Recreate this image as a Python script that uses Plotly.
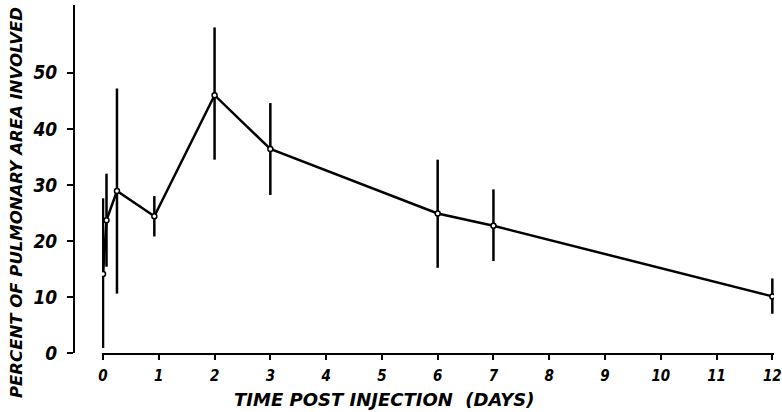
import plotly.graph_objects as go

# Data
days = [0.0, 0.0625, 0.25, 0.92, 2.0, 3.0, 6.0, 7.0, 12.0]
percent = [14.1, 23.7, 28.9, 24.4, 46.0, 36.4, 24.9, 22.7, 10.1]
err_high = [27.6, 32.0, 47.2, 28.0, 58.1, 44.6, 34.5, 29.2, 13.3]
err_low = [0.9, 15.4, 10.6, 20.8, 34.5, 28.2, 15.2, 16.4, 7.0]

x_ticks = list(range(0, 13))
x_tick_labels = [str(v) for v in x_ticks]
y_ticks = [0, 10, 20, 30, 40, 50]
y_tick_labels = [str(v) for v in y_ticks]

plus = [h - v for h, v in zip(err_high, percent)]
minus = [v - l for v, l in zip(percent, err_low)]

COND = "DejaVu Sans Condensed, DejaVu Sans, sans-serif"
WIDE = "DejaVu Sans, sans-serif"

fig = go.Figure()
fig.add_trace(go.Scatter(
    x=days, y=percent,
    mode="lines+markers",
    line=dict(color="black", width=2.5),
    marker=dict(symbol="circle", size=5, color="white",
                line=dict(color="black", width=1.5)),
    error_y=dict(type="data", symmetric=False, array=plus, arrayminus=minus,
                 color="black", thickness=2.5, width=0),
    showlegend=False,
    hoverinfo="skip",
))

L, R, T, B = 74, 8, 5, 59
W, H = 782, 412
pw = W - L - R
ph = H - T - B
x0_px = 101.9
dom_start = (x0_px - L) / pw

fig.update_layout(
    width=W, height=H,
    margin=dict(l=L, r=R, t=T, b=B, autoexpand=False),
    paper_bgcolor="white", plot_bgcolor="white",
    font=dict(family=COND, color="black"),
    xaxis=dict(
        domain=[dom_start, 1], range=[-0.02, 12.03],
        tickmode="array", tickvals=x_ticks, ticktext=x_tick_labels,
        showgrid=False, zeroline=False,
        showline=True, linecolor="black", linewidth=2,
        ticks="outside", ticklen=5, tickwidth=1.5, tickcolor="black",
        ticklabelstandoff=3, ticklabeloverflow="allow",
        tickfont=dict(size=15, family=COND, style="italic", weight="bold"),
        anchor="y",
    ),
    yaxis=dict(
        range=[0, 62.1], anchor="free", position=0,
        tickmode="array", tickvals=y_ticks, ticktext=y_tick_labels,
        showgrid=False, zeroline=False,
        showline=True, linecolor="black", linewidth=2,
        ticks="outside", ticklen=6, tickwidth=1.5, tickcolor="black",
        ticklabelstandoff=6,
        tickfont=dict(size=19, family=COND, style="italic", weight="bold"),
    ),
    annotations=[
        dict(text="TIME POST INJECTION  (DAYS)", xref="paper", yref="paper",
             x=(384 - L) / pw, y=-(399 - (H - B)) / ph,
             xanchor="center", yanchor="middle", showarrow=False,
             font=dict(size=18, family=WIDE, style="italic", weight="bold")),
        dict(text="PERCENT OF PULMONARY AREA INVOLVED", xref="paper", yref="paper",
             x=-(L - 16) / pw, y=(H - B - 203) / ph,
             xanchor="center", yanchor="middle", showarrow=False, textangle=-90,
             font=dict(size=16.5, family=WIDE, style="italic", weight="bold")),
    ],
)

fig.write_html("out.html", config={"displayModeBar": False},
               post_script="document.body.style.margin='0';")
